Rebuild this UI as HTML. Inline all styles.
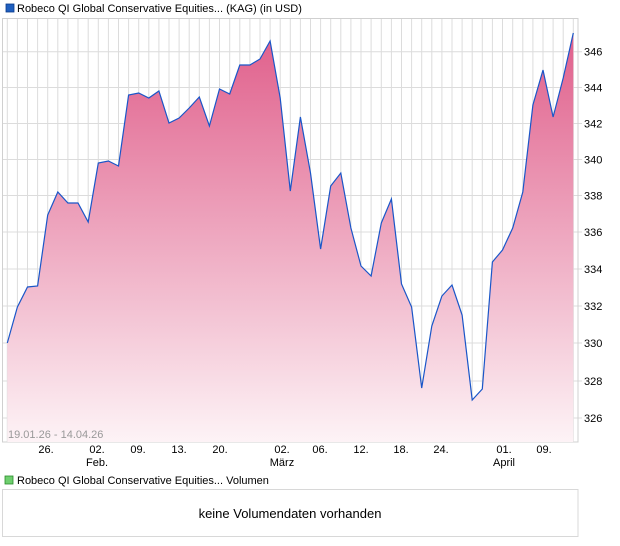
<!DOCTYPE html>
<html><head><meta charset="utf-8"><style>
html,body{margin:0;padding:0;background:#fff;}
svg{display:block;font-family:"Liberation Sans",sans-serif;}
</style></head><body>
<svg width="620" height="546" viewBox="0 0 620 546" xmlns="http://www.w3.org/2000/svg">
<defs>
<linearGradient id="g" x1="0" y1="33" x2="0" y2="442" gradientUnits="userSpaceOnUse">
<stop offset="0" stop-color="#e05f8b"/>
<stop offset="0.5" stop-color="#eea8c0"/>
<stop offset="1" stop-color="#fdf3f6"/>
</linearGradient>
</defs>
<rect x="6" y="4" width="8" height="8" fill="#1f5fbf" stroke="#0a3a8a" stroke-width="0.8"/>
<text x="17" y="12" font-size="11" fill="#000">Robeco QI Global Conservative Equities... (KAG) (in USD)</text>
<g stroke="#dcdcdc" stroke-width="1">
<path d="M7.3 18V442M17.4 18V442M27.5 18V442M37.6 18V442M47.7 18V442M57.8 18V442M67.9 18V442M78 18V442M88.2 18V442M98.3 18V442M108.4 18V442M118.5 18V442M128.6 18V442M138.7 18V442M148.8 18V442M158.9 18V442M169 18V442M179.1 18V442M189.2 18V442M199.3 18V442M209.4 18V442M219.5 18V442M229.7 18V442M239.8 18V442M249.9 18V442M260 18V442M270.1 18V442M280.2 18V442M290.3 18V442M300.4 18V442M310.5 18V442M320.6 18V442M330.7 18V442M340.8 18V442M350.9 18V442M361 18V442M371.1 18V442M381.3 18V442M391.4 18V442M401.5 18V442M411.6 18V442M421.7 18V442M431.8 18V442M441.9 18V442M452 18V442M462.1 18V442M472.2 18V442M482.3 18V442M492.4 18V442M502.5 18V442M512.7 18V442M522.8 18V442M532.9 18V442M543 18V442M553.1 18V442M563.2 18V442M573.3 18V442"/>
<path d="M2 51.7H582M2 87.5H582M2 123.5H582M2 159.5H582M2 195.5H582M2 232H582M2 269H582M2 306H582M2 343H582M2 381H582M2 418H582"/>
</g>
<rect x="2.5" y="18.5" width="575.5" height="423.5" fill="none" stroke="#d0d0d0"/>
<path fill="url(#g)" d="M7.3,343L17.4,307L27.5,287L37.6,286L47.7,215L57.8,192L67.9,203L78,203L88.2,222L98.3,163L108.4,161L118.5,166L128.6,95L138.7,93L148.8,98L158.9,91L169,123L179.1,118L189.2,108L199.3,97L209.4,126L219.5,89L229.7,94L239.8,65L249.9,65L260,59L270.1,41L280.2,98L290.3,191L300.4,117L310.5,173L320.6,249L330.7,186L340.8,173L350.9,228L361,266L371.1,276L381.3,223L391.4,199L401.5,284L411.6,307L421.7,388L431.8,326L441.9,296L452,285L462.1,315L472.2,400L482.3,389L492.4,262L502.5,250L512.7,228L522.8,192L532.9,105L543,70L553.1,117L563.2,78L573.3,33L573.3,442L7.3,442Z"/>
<path fill="none" stroke="#1a56c8" stroke-width="1.2" d="M7.3,343L17.4,307L27.5,287L37.6,286L47.7,215L57.8,192L67.9,203L78,203L88.2,222L98.3,163L108.4,161L118.5,166L128.6,95L138.7,93L148.8,98L158.9,91L169,123L179.1,118L189.2,108L199.3,97L209.4,126L219.5,89L229.7,94L239.8,65L249.9,65L260,59L270.1,41L280.2,98L290.3,191L300.4,117L310.5,173L320.6,249L330.7,186L340.8,173L350.9,228L361,266L371.1,276L381.3,223L391.4,199L401.5,284L411.6,307L421.7,388L431.8,326L441.9,296L452,285L462.1,315L472.2,400L482.3,389L492.4,262L502.5,250L512.7,228L522.8,192L532.9,105L543,70L553.1,117L563.2,78L573.3,33"/>
<g font-size="11" fill="#000">
<text x="584" y="55.7">346</text><text x="584" y="91.5">344</text><text x="584" y="127.5">342</text><text x="584" y="163.5">340</text><text x="584" y="199.5">338</text><text x="584" y="236">336</text><text x="584" y="273">334</text><text x="584" y="310">332</text><text x="584" y="347">330</text><text x="584" y="385">328</text><text x="584" y="422">326</text>
</g>
<text x="8" y="438" font-size="11" fill="#999">19.01.26 - 14.04.26</text>
<g font-size="11" fill="#000" text-anchor="middle">
<text x="46" y="453">26.</text>
<text x="97" y="453">02.</text><text x="97" y="466">Feb.</text>
<text x="138" y="453">09.</text>
<text x="179" y="453">13.</text>
<text x="220" y="453">20.</text>
<text x="282" y="453">02.</text><text x="282" y="466">März</text>
<text x="320" y="453">06.</text>
<text x="361" y="453">12.</text>
<text x="401" y="453">18.</text>
<text x="441" y="453">24.</text>
<text x="504" y="453">01.</text><text x="504" y="466">April</text>
<text x="544" y="453">09.</text>
</g>
<rect x="5" y="476" width="8" height="8" fill="#6fcf6f" stroke="#2a8a2a" stroke-width="0.8"/>
<text x="17" y="484" font-size="11" fill="#000">Robeco QI Global Conservative Equities... Volumen</text>
<rect x="2.5" y="489.5" width="575.5" height="47" fill="#fff" stroke="#d8d8d8"/>
<text x="290" y="518" font-size="13" fill="#000" text-anchor="middle">keine Volumendaten vorhanden</text>
</svg>
</body></html>
